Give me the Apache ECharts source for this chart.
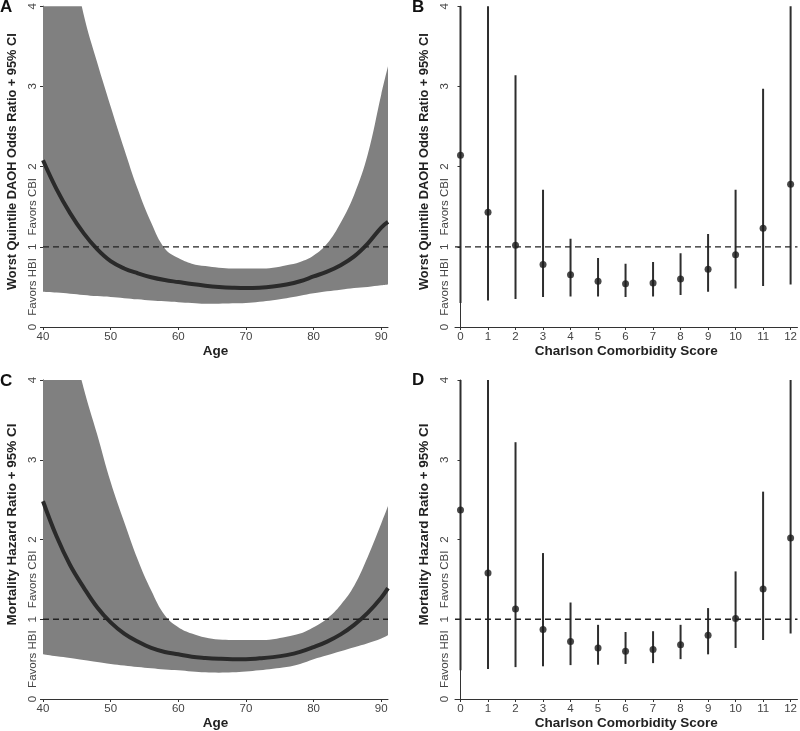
<!DOCTYPE html>
<html>
<head>
<meta charset="utf-8">
<script src="https://cdn.jsdelivr.net/npm/echarts@6/dist/echarts.min.js"></script>
<style>
html,body{margin:0;padding:0;background:#fff;}
#chart{width:800px;height:731px;}
</style>
</head>
<body>
<div id="chart"></div>
<script>
// ---- data ----
const ages = [40,42,44,46,48,50,52,54,56,58,60,62,64,66,68,70,72,74,76,78,80,82,84,86,88,90,91];
const daohCurve = [2.08,1.72,1.42,1.17,0.97,0.82,0.73,0.67,0.62,0.585,0.56,0.535,0.515,0.50,0.49,0.485,0.49,0.505,0.53,0.57,0.63,0.69,0.77,0.88,1.04,1.24,1.31];
const daohLower = [0.44,0.43,0.415,0.40,0.385,0.375,0.36,0.345,0.33,0.32,0.31,0.30,0.29,0.29,0.295,0.30,0.315,0.335,0.36,0.39,0.42,0.445,0.465,0.485,0.50,0.52,0.53];
const daohUpper = [7.0,5.8,4.75,3.9,3.3,2.75,2.22,1.72,1.30,0.98,0.86,0.79,0.76,0.74,0.73,0.73,0.73,0.74,0.77,0.81,0.89,1.04,1.30,1.65,2.15,2.90,3.25];

const mortCurve = [2.48,2.04,1.68,1.40,1.15,0.96,0.82,0.72,0.64,0.59,0.56,0.53,0.515,0.505,0.50,0.50,0.51,0.525,0.55,0.59,0.65,0.72,0.81,0.93,1.08,1.27,1.39];
const mortLower = [0.56,0.535,0.515,0.49,0.465,0.44,0.42,0.40,0.385,0.37,0.36,0.345,0.335,0.33,0.335,0.345,0.36,0.38,0.40,0.44,0.50,0.55,0.60,0.65,0.70,0.76,0.80];
const mortUpper = [7.0,5.6,4.6,3.9,3.32,2.72,2.22,1.75,1.36,1.05,0.90,0.82,0.77,0.745,0.74,0.74,0.74,0.75,0.78,0.82,0.90,1.01,1.18,1.42,1.78,2.20,2.42];

const cciScores = [0,1,2,3,4,5,6,7,8,9,10,11,12];
const daohOR   = [2.14,1.43,1.02,0.78,0.65,0.57,0.54,0.55,0.60,0.72,0.90,1.23,1.78];
const daohORlo = [0.30,0.33,0.35,0.375,0.38,0.38,0.375,0.38,0.40,0.44,0.48,0.51,0.53];
const daohORhi = [5.5,5.0,3.14,1.71,1.10,0.86,0.79,0.81,0.92,1.16,1.71,2.97,5.0];
const mortHR   = [2.37,1.58,1.13,0.87,0.72,0.64,0.60,0.62,0.68,0.80,1.01,1.38,2.02];
const mortHRlo = [0.36,0.375,0.40,0.41,0.425,0.43,0.44,0.45,0.50,0.56,0.64,0.74,0.82];
const mortHRhi = [5.5,5.0,3.22,1.83,1.21,0.93,0.84,0.85,0.93,1.14,1.60,2.60,5.0];

const ageTicks = [40,50,60,70,80,90];
const yTicks = [0,1,2,3,4];
const yLabelValues = [0,0.5,1,1.5,2,3,4];
const favorLabels = {'0.5':'Favors HBI','1.5':'Favors CBI'};
const refValue = 1;

// ---- chart ----
const FONT = '"Liberation Sans", Arial, Helvetica, sans-serif';
const chart = echarts.init(document.getElementById('chart'));

const grids = [
  {left:43, top:6, width:345, height:321},
  {left:455, top:6, width:345, height:321},
  {left:43, top:380, width:345, height:320},
  {left:455, top:380, width:345, height:320}
];

function xAxisAge(gi){
  return {
    type:'value', gridIndex:gi, min:40, max:91,
    name:'Age', nameLocation:'middle', nameGap:17,
    nameTextStyle:{fontFamily:FONT, fontWeight:'bold', fontSize:13.5, color:'#222'},
    axisLine:{lineStyle:{color:'#333', width:1}},
    axisTick:{customValues:ageTicks, length:3, lineStyle:{color:'#333'}},
    axisLabel:{customValues:ageTicks, fontFamily:FONT, fontSize:11.5, color:'#444', margin:4},
    splitLine:{show:false}
  };
}
function xAxisCci(gi){
  return {
    type:'value', gridIndex:gi, min:-0.2, max:12.25,
    name:'Charlson Comorbidity Score', nameLocation:'middle', nameGap:17,
    nameTextStyle:{fontFamily:FONT, fontWeight:'bold', fontSize:13.5, color:'#222'},
    axisLine:{lineStyle:{color:'#333', width:1}},
    axisTick:{customValues:cciScores, length:3, lineStyle:{color:'#333'}},
    axisLabel:{customValues:cciScores, fontFamily:FONT, fontSize:11.5, color:'#444', margin:4},
    splitLine:{show:false}
  };
}
function yAxisRatio(gi, name, fs, shift){
  return {
    type:'value', gridIndex:gi, min:0, max:4,
    name:name, nameLocation:'middle', nameGap:24,
    nameTextStyle:{fontFamily:FONT, fontWeight:'bold', fontSize:fs, color:'#222', padding:[0,0,0,shift]},
    axisLine:{show:true, lineStyle:{color:'#333', width:1}},
    axisTick:{show:true, customValues:yTicks, length:3, lineStyle:{color:'#333'}},
    axisLabel:{customValues:yLabelValues, rotate:90, fontFamily:FONT, fontSize:11.5, color:'#444', margin:4,
      formatter:function(v){ return favorLabels[String(v)] || String(v); }},
    splitLine:{show:false}
  };
}

function bandSeries(gi, lower, upper, curve){
  const upData = ages.map((a,i)=>[a, upper[i]]);
  const lowData = ages.map((a,i)=>[a, lower[i]]);
  const curveData = ages.map((a,i)=>[a, curve[i]]);
  return [
    {type:'line', xAxisIndex:gi, yAxisIndex:gi, data:upData, symbol:'none', smooth:0.4,
     lineStyle:{width:0, opacity:0}, areaStyle:{color:'#808080', opacity:1, origin:'start'}, silent:true, clip:true, z:1},
    {type:'line', xAxisIndex:gi, yAxisIndex:gi, data:lowData, symbol:'none', smooth:0.4,
     lineStyle:{width:0, opacity:0}, areaStyle:{color:'#ffffff', opacity:1, origin:'start'}, silent:true, clip:true, z:2},
    {type:'line', xAxisIndex:gi, yAxisIndex:gi, data:curveData, symbol:'none', smooth:0.4,
     lineStyle:{color:'#2a2a2a', width:4}, clip:true, z:3},
    {type:'line', xAxisIndex:gi, yAxisIndex:gi, data:[[40,refValue],[91,refValue]], symbol:'none',
     lineStyle:{color:'#222', width:1.3, type:[6,4]}, z:4}
  ];
}

function errSeries(gi, est, lo, hi){
  const data = cciScores.map((c,i)=>[c, lo[i], hi[i]]);
  return [
    {type:'custom', xAxisIndex:gi, yAxisIndex:gi, data:data, clip:true, z:2,
     renderItem:function(params, api){
       const p1 = api.coord([api.value(0), api.value(1)]);
       const p2 = api.coord([api.value(0), api.value(2)]);
       return {type:'line', shape:{x1:p1[0], y1:p1[1], x2:p2[0], y2:p2[1]},
               style:{stroke:'#2e2e2e', lineWidth:2}};
     }},
    {type:'scatter', xAxisIndex:gi, yAxisIndex:gi, data:cciScores.map((c,i)=>[c, est[i]]),
     symbol:'circle', symbolSize:7, itemStyle:{color:'#1a1a1a'}, z:3},
    {type:'line', xAxisIndex:gi, yAxisIndex:gi, data:[[-0.2,refValue],[12.25,refValue]], symbol:'none',
     lineStyle:{color:'#222', width:1.3, type:[6,4]}, z:4}
  ];
}

const option = {
  animation:false,
  backgroundColor:'#fff',
  grid:grids,
  xAxis:[xAxisAge(0), xAxisCci(1), xAxisAge(2), xAxisCci(3)],
  yAxis:[
    yAxisRatio(0,'Worst Quintile DAOH Odds Ratio + 95% CI',12.8,10),
    yAxisRatio(1,'Worst Quintile DAOH Odds Ratio + 95% CI',12.8,10),
    yAxisRatio(2,'Mortality Hazard Ratio + 95% CI',13.5,30),
    yAxisRatio(3,'Mortality Hazard Ratio + 95% CI',13.5,30)
  ],
  graphic:[
    {type:'text', left:0, top:-1, style:{text:'A', font:'bold 17px '+FONT, fill:'#111'}},
    {type:'text', left:412, top:-1, style:{text:'B', font:'bold 17px '+FONT, fill:'#111'}},
    {type:'text', left:0, top:373, style:{text:'C', font:'bold 17px '+FONT, fill:'#111'}},
    {type:'text', left:412, top:372, style:{text:'D', font:'bold 17px '+FONT, fill:'#111'}}
  ],
  series:[].concat(
    bandSeries(0, daohLower, daohUpper, daohCurve),
    errSeries(1, daohOR, daohORlo, daohORhi),
    bandSeries(2, mortLower, mortUpper, mortCurve),
    errSeries(3, mortHR, mortHRlo, mortHRhi)
  )
};
chart.setOption(option);
</script>
</body>
</html>
